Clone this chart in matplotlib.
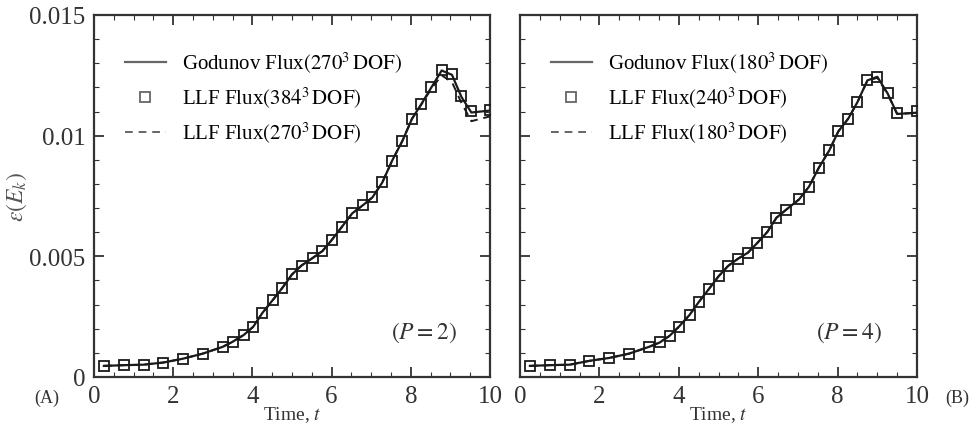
import matplotlib
matplotlib.use("Agg")
import matplotlib.pyplot as plt
from matplotlib.ticker import MultipleLocator, FixedLocator

plt.rcParams['font.family'] = ['Liberation Serif', 'DejaVu Serif']
plt.rcParams['mathtext.fontset'] = 'stix'

# ---------------- data: panel A (P = 2) ----------------
tA = [0.25, 0.75, 1.25, 1.75, 2.25, 2.75, 3.25, 3.5, 3.78, 4.02, 4.25, 4.52, 4.76, 5.0,
      5.24, 5.52, 5.77, 6.0, 6.25, 6.52, 6.8, 7.03, 7.28, 7.53, 7.79, 8.03, 8.27, 8.52,
      8.78, 9.04, 9.28, 9.53, 10.0]
godA = [0.00046, 0.00049, 0.00051, 0.00060, 0.00076, 0.00097, 0.00125, 0.00146, 0.00174,
        0.00208, 0.00265, 0.00320, 0.00370, 0.00425, 0.00462, 0.00493, 0.00522, 0.00567,
        0.00620, 0.00678, 0.00713, 0.00744, 0.00806, 0.00897, 0.00979, 0.01070, 0.01132,
        0.01200, 0.01270, 0.01252, 0.01160, 0.01096, 0.01104]
llf_fineA = [0.00046, 0.00049, 0.00051, 0.00060, 0.00076, 0.00097, 0.00125, 0.00146, 0.00174,
             0.00208, 0.00265, 0.00320, 0.00370, 0.00425, 0.00462, 0.00493, 0.00522, 0.00567,
             0.00620, 0.00678, 0.00713, 0.00744, 0.00806, 0.00897, 0.00979, 0.01070, 0.01132,
             0.01200, 0.01274, 0.01254, 0.01165, 0.01101, 0.01106]
llf_coarseA = [0.00046, 0.00049, 0.00051, 0.00060, 0.00076, 0.00097, 0.00125, 0.00146, 0.00174,
               0.00208, 0.00265, 0.00320, 0.00370, 0.00425, 0.00462, 0.00493, 0.00522, 0.00567,
               0.00620, 0.00678, 0.00713, 0.00744, 0.00806, 0.00897, 0.00979, 0.01070, 0.01130,
               0.01195, 0.01250, 0.01222, 0.01135, 0.01060, 0.01080]

# ---------------- data: panel B (P = 4) ----------------
tB = [0.25, 0.75, 1.25, 1.75, 2.25, 2.75, 3.25, 3.52, 3.77, 4.0, 4.27, 4.5, 4.76, 5.0,
      5.24, 5.49, 5.74, 5.98, 6.23, 6.46, 6.71, 7.03, 7.28, 7.53, 7.79, 8.02, 8.27, 8.5,
      8.75, 9.0, 9.26, 9.5, 10.0]
godB = [0.00046, 0.00049, 0.00051, 0.00067, 0.00079, 0.00097, 0.00125, 0.00143, 0.00171,
        0.00208, 0.00257, 0.00310, 0.00365, 0.00417, 0.00460, 0.00490, 0.00515, 0.00556,
        0.00601, 0.00660, 0.00694, 0.00736, 0.00789, 0.00868, 0.00939, 0.01018, 0.01071,
        0.01139, 0.01229, 0.01244, 0.01175, 0.01090, 0.01095]
llf_fineB = [0.00046, 0.00049, 0.00051, 0.00067, 0.00079, 0.00097, 0.00125, 0.00143, 0.00171,
             0.00208, 0.00257, 0.00310, 0.00365, 0.00417, 0.00460, 0.00490, 0.00515, 0.00556,
             0.00601, 0.00660, 0.00694, 0.00736, 0.00789, 0.00868, 0.00939, 0.01018, 0.01071,
             0.01139, 0.01229, 0.01244, 0.01175, 0.01092, 0.01101]
llf_coarseB = [0.00046, 0.00049, 0.00051, 0.00067, 0.00079, 0.00097, 0.00125, 0.00143, 0.00171,
               0.00208, 0.00257, 0.00310, 0.00365, 0.00417, 0.00460, 0.00490, 0.00515, 0.00556,
               0.00601, 0.00660, 0.00694, 0.00736, 0.00789, 0.00868, 0.00939, 0.01018, 0.01071,
               0.01139, 0.01227, 0.01240, 0.01172, 0.01090, 0.01095]

labelsA = [r'Godunov Flux$\left(270^{3}\,\mathrm{DOF}\right)$',
           r'LLF Flux$\left(384^{3}\,\mathrm{DOF}\right)$',
           r'LLF Flux$\left(270^{3}\,\mathrm{DOF}\right)$']
labelsB = [r'Godunov Flux$\left(180^{3}\,\mathrm{DOF}\right)$',
           r'LLF Flux$\left(240^{3}\,\mathrm{DOF}\right)$',
           r'LLF Flux$\left(180^{3}\,\mathrm{DOF}\right)$']
xticks = [0, 2, 4, 6, 8, 10]
yticks = [0, 0.005, 0.01, 0.015]
yticklabels = ['0', '0.005', '0.01', '0.015']

W, H = 977, 427
fig = plt.figure(figsize=(W / 100, H / 100), dpi=100)
axA = fig.add_axes([94 / W, 1 - 378 / H, 396 / W, 362 / H])
axB = fig.add_axes([520 / W, 1 - 378 / H, 397 / W, 362 / H])

ink = '#1a1a1a'

def draw(ax, t, god, fine, coarse, labels, ptext, px, show_y):
    ax.plot(t, god, '-', color=ink, lw=1.6, label=labels[0], zorder=3)
    ax.plot(t, fine, 's', mfc='none', mec=ink, mew=1.3, ms=7, label=labels[1], zorder=4)
    ax.plot(t, coarse, '--', color=ink, lw=1.4, dashes=(4, 3), label=labels[2], zorder=3)
    ax.set_xlim(0, 10)
    ax.set_ylim(0, 0.015)
    ax.xaxis.set_major_locator(FixedLocator(xticks))
    ax.xaxis.set_minor_locator(MultipleLocator(0.5))
    ax.yaxis.set_major_locator(FixedLocator(yticks))
    ax.yaxis.set_minor_locator(MultipleLocator(0.001))
    ax.tick_params(which='both', direction='in', top=True, right=True, colors='#333333')
    ax.tick_params(which='major', length=7, width=1.3, labelsize=18, pad=6)
    ax.tick_params(which='minor', length=3.5, width=0.8)
    ax.set_xticklabels([str(v) for v in xticks])
    if show_y:
        ax.set_yticklabels(yticklabels)
    else:
        ax.set_yticklabels([])
    for s in ax.spines.values():
        s.set_linewidth(1.6)
        s.set_color('#333333')
    ax.set_xlabel(r'Time, $t$', fontsize=14, labelpad=-2, color='#333333')
    leg = ax.legend(frameon=False, loc='upper left', bbox_to_anchor=(0.03, 0.955),
                    fontsize=15, handlelength=2.0, handletextpad=0.75, labelspacing=0.47)
    for h in leg.legend_handles:
        h.set_color('#666666')
        if hasattr(h, 'set_mec'):
            h.set_mec('#666666')
    ax.text(px, 0.125, ptext, transform=ax.transAxes, fontsize=17, ha='center',
            va='center', color='#333333')

draw(axA, tA, godA, llf_fineA, llf_coarseA, labelsA, r'$\left(P=2\right)$', 0.833, True)
draw(axB, tB, godB, llf_fineB, llf_coarseB, labelsB, r'$\left(P=4\right)$', 0.829, False)

axA.set_ylabel(r'$\varepsilon\left(E_k\right)$', fontsize=17, color='#555555')
axA.yaxis.set_label_coords(-0.164, 0.5)
fig.text(47 / W, 1 - 398 / H, '(A)', fontsize=13, ha='center', va='center', color='#333333')
fig.text(957 / W, 1 - 398 / H, '(B)', fontsize=13, ha='center', va='center', color='#333333')

fig.savefig('out.png', dpi=100)
